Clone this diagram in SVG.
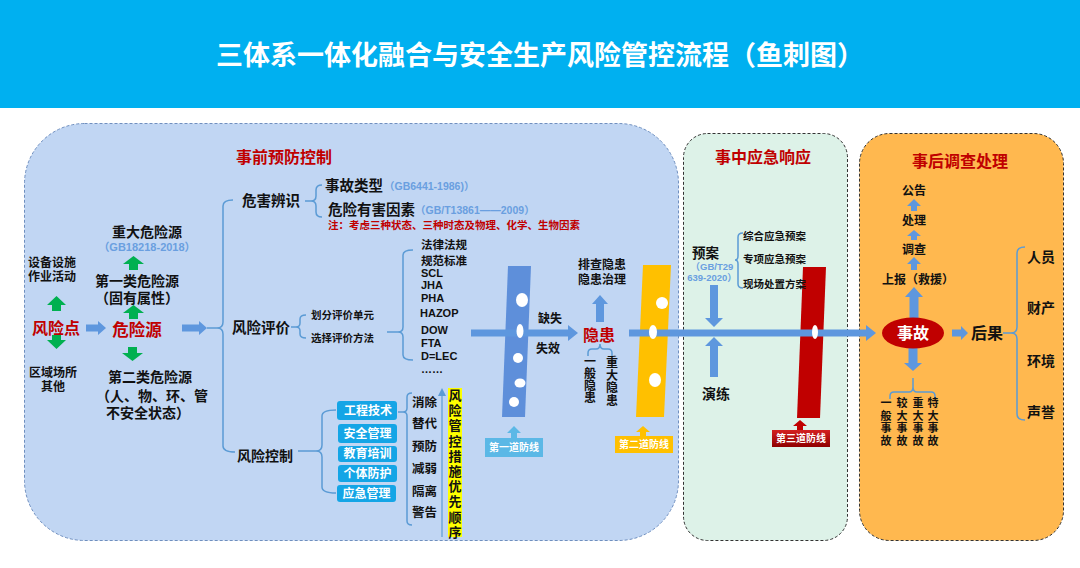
<svg xmlns="http://www.w3.org/2000/svg" width="1080" height="568" viewBox="0 0 1080 568">
<defs>
<style>
.t{font-family:"Liberation Sans","Noto Sans CJK SC",sans-serif;font-weight:bold;fill:#111;dominant-baseline:central}
.m{text-anchor:middle}
.red{fill:#C00000}
.blue{fill:#6A9FE0}
.wh{fill:#fff}
.br{fill:none;stroke:#5B9BD5;stroke-width:1.5}
.ba{fill:#5E97DE}
.ga{fill:#00B050}
.hole{fill:#fff}
.btn{fill:#14A5E6}
</style>
<marker id="thinhead" markerWidth="8" markerHeight="8" refX="4" refY="4" orient="auto" markerUnits="userSpaceOnUse">
<path d="M0,0 L8,4 L0,8 Z" fill="#5B9BD5"/>
</marker>
<linearGradient id="redlab" x1="0" y1="0" x2="0" y2="1">
<stop offset="0" stop-color="#D42020"/>
<stop offset="1" stop-color="#8E0000"/>
</linearGradient>
</defs>

<g id="header">
<rect x="0" y="0" width="1080" height="108" fill="#00B0F0"/>
<text class="t m wh" x="540" y="56" font-size="27">三体系一体化融合与安全生产风险管控流程（鱼刺图）</text>
</g>

<g id="panels">
<rect x="24.5" y="123.5" width="654" height="417" rx="60" fill="#C1D6F3" stroke="#6F8FBF" stroke-dasharray="3,2"/>
<rect x="683.5" y="133.5" width="164" height="407" rx="24" fill="#DDF2E8" stroke="#333" stroke-dasharray="3,2"/>
<rect x="859.5" y="133.5" width="204" height="407" rx="30" fill="#FFB84F" stroke="#333" stroke-dasharray="3,2"/>
</g>

<g id="defense-lines">
<polygon points="508,266 531,266 525,417 502,417" fill="#5E8FDA"/>
<polygon points="643,265 671,265 664,417 636,417" fill="#FFC000"/>
<polygon points="803,267 826,267 820,418 797,418" fill="#C00000"/>
</g>

<g id="connectors">
<!-- braces -->
<path class="br" d="M233,200 Q223,200 223,206 L223,322 Q223,328 217,328 L207,328 M217,328 Q223,328 223,334 L223,446 Q223,452 235,452"/>
<path class="br" d="M322,185 Q316,185 316,190 L316,196 Q316,201 311,201 L305,201 M311,201 Q316,201 316,206 L316,212 Q316,217 322,217"/>
<path class="br" d="M306,315 Q300,315 300,319 L300,323 Q300,327 296,327 L291,327 M296,327 Q300,327 300,331 L300,334 Q300,338 306,338"/>
<path class="br" d="M413,250 Q403,250 403,255 L403,327 Q403,332 398,332 L387,332 M398,332 Q403,332 403,337 L403,355 Q403,360 413,360"/>
<path class="br" d="M336,410 Q322,410 322,416 L322,445 Q322,451 316,451 L298,451 M316,451 Q322,451 322,457 L322,487 Q322,493 336,493"/>
<path class="br" d="M412,393 Q407,393 407,397 L407,408 Q407,412 403,412 L398,412 M403,412 Q407,412 407,416 L407,521 Q407,525 412,525"/>
<path class="br" d="M743,233 Q738,233 738,237 L738,256 Q738,260 735,260 M735,260 Q738,260 738,264 L738,284 Q738,288 743,288" stroke="#8DB7E6" stroke-width="1.2"/>
<path class="br" d="M1025,247 Q1017,247 1017,253 L1017,327 Q1017,333 1011,333 L1003,333 M1011,333 Q1017,333 1017,339 L1017,414 Q1017,420 1025,420"/>
<path class="br" d="M588,356 L588,353 Q588,349 592,349 L596,349 Q600,349 600,344 M600,344 Q600,349 604,349 L608,349 Q612,349 612,353 L612,356" stroke="#7FAFE3"/>
<path class="br" d="M890,399 L890,396 Q890,392 894,392 L909,392 Q913,392 913,387 L913,378 M913,387 Q913,392 917,392 L931,392 Q935,392 935,396 L935,399" stroke="#7FAFE3"/>
<!-- thin priority arrow -->
<line x1="442" y1="537" x2="442" y2="392" stroke="#5B9BD5" stroke-width="1.2" marker-end="url(#thinhead)"/>
<!-- main spine -->
<path class="ba" d="M471,329.5 L568,329.5 L568,325 L578,333 L568,341 L568,336.5 L471,336.5 Z"/>
<path class="ba" d="M629,329.5 L866,329.5 L866,325 L876,333 L866,341 L866,336.5 L629,336.5 Z"/>
<!-- left horizontal arrows -->
<path class="ba" d="M86,324.5 L98,324.5 L98,321 L106,328 L98,335 L98,331.5 L86,331.5 Z"/>
<path class="ba" d="M182,324.5 L199,324.5 L199,321 L207,328 L199,335 L199,331.5 L182,331.5 Z"/>
<path class="ba" d="M952,329.5 L961,329.5 L961,326 L968,333 L961,340 L961,336.5 L952,336.5 Z"/>
<!-- vertical blue arrows -->
<path class="ba" d="M596,322 L596,304 L592,304 L600,295 L608,304 L604,304 L604,322 Z"/>
<path class="ba" d="M710,285 L710,318 L705,318 L714,327 L723,318 L718,318 L718,285 Z"/>
<path class="ba" d="M710,377 L710,346 L705,346 L714,337 L723,346 L718,346 L718,377 Z"/>
<path class="ba" d="M909.5,318 L909.5,297 L905,297 L914,287 L923,297 L918.5,297 L918.5,318 Z"/>
<path class="ba" d="M908.5,348 L908.5,363 L904,363 L913,371 L922,363 L917.5,363 L917.5,348 Z"/>
<path class="ba" d="M911,270 L911,264 L907,264 L914,257 L921,264 L917,264 L917,270 Z"/>
<path class="ba" d="M911,240 L911,236 L907,236 L914,230 L921,236 L917,236 L917,240 Z"/>
<path class="ba" d="M911,211 L911,206 L907,206 L914,199 L921,206 L917,206 L917,211 Z"/>
<!-- green arrows -->
<path class="ga" d="M52,311 L52,305 L47,305 L56.5,296 L66,305 L61,305 L61,311 Z"/>
<path class="ga" d="M52,335 L52,340 L47,340 L56.5,349 L66,340 L61,340 L61,335 Z"/>
<path class="ga" d="M129,319 L129,313 L123,313 L133.5,305 L144,313 L138,313 L138,319 Z"/>
<path class="ga" d="M129,270 L129,264 L123,264 L133.5,256 L144,264 L138,264 L138,270 Z"/>
<path class="ga" d="M128,347 L128,353 L122,353 L132.5,361 L143,353 L137,353 L137,347 Z"/>
<!-- defense label arrows -->
<path d="M511,438 L511,433 L507,433 L514,426 L521,433 L517,433 L517,438 Z" fill="#5BB8E6"/>
<path d="M640,436 L640,432 L636,432 L643,426 L650,432 L646,432 L646,436 Z" fill="#FFC000"/>
<path d="M797,430 L797,426 L793,426 L800,420 L807,426 L803,426 L803,430 Z" fill="#C00000"/>
</g>

<g id="holes">
<ellipse class="hole" cx="522" cy="300" rx="6" ry="7"/>
<ellipse class="hole" cx="520" cy="331" rx="3.5" ry="7"/>
<ellipse class="hole" cx="518" cy="358" rx="5" ry="5"/>
<ellipse class="hole" cx="520" cy="383" rx="5.5" ry="4.5"/>
<ellipse class="hole" cx="514" cy="402" rx="5" ry="5"/>
<ellipse class="hole" cx="662" cy="303" rx="6" ry="6"/>
<ellipse class="hole" cx="653" cy="332" rx="4" ry="7"/>
<ellipse class="hole" cx="655" cy="380" rx="6" ry="7"/>
<ellipse class="hole" cx="815" cy="332" rx="3" ry="7"/>
</g>

<g id="defense-labels">
<rect x="485" y="438" width="58" height="19" fill="#5BB8E6"/>
<text class="t m wh" x="514" y="447.5" font-size="10">第一道防线</text>
<rect x="615" y="436" width="58" height="17" fill="#FFC000"/>
<text class="t m wh" x="644" y="444.5" font-size="10">第二道防线</text>
<rect x="772" y="430" width="58" height="17" fill="url(#redlab)"/>
<text class="t m wh" x="801" y="438.5" font-size="10">第三道防线</text>
</g>

<g id="node-risk-point">
<text class="t m" x="52" y="263" font-size="12">设备设施</text>
<text class="t m" x="52" y="277" font-size="12">作业活动</text>
<text class="t m red" x="56" y="328" font-size="16">风险点</text>
<text class="t m" x="53" y="373" font-size="12">区域场所</text>
<text class="t m" x="53" y="387" font-size="12">其他</text>
</g>

<g id="node-hazard-source">
<text class="t m" x="147" y="232" font-size="14">重大危险源</text>
<text class="t m blue" x="147" y="247" font-size="11">（GB18218-2018）</text>
<text class="t m" x="137" y="281" font-size="14">第一类危险源</text>
<text class="t m" x="137" y="298" font-size="14">（固有属性）</text>
<text class="t m red" x="137" y="330" font-size="16.5">危险源</text>
<text class="t m" x="150" y="377" font-size="14">第二类危险源</text>
<text class="t m" x="152" y="396" font-size="14">（人、物、环、管</text>
<text class="t m" x="148" y="413" font-size="14">不安全状态）</text>
</g>

<g id="node-pre-title">
<text class="t red" x="236" y="157" font-size="16">事前预防控制</text>
</g>

<g id="node-identify">
<text class="t" x="242" y="201" font-size="14.5">危害辨识</text>
<text class="t" x="325" y="186" font-size="14.5">事故类型</text>
<text class="t blue" x="384" y="186" font-size="10.5">（GB6441-1986)）</text>
<text class="t" x="328" y="210" font-size="14.5">危险有害因素</text>
<text class="t blue" x="415" y="210" font-size="10.5">（GB/T13861——2009）</text>
<text class="t red" x="328" y="225" font-size="10.5">注：考虑三种状态、三种时态及物理、化学、生物因素</text>
</g>

<g id="node-assess">
<text class="t" x="232" y="328" font-size="14.5">风险评价</text>
<text class="t" x="311" y="315" font-size="10.5">划分评价单元</text>
<text class="t" x="311" y="338" font-size="10.5">选择评价方法</text>
<text class="t" x="421" y="245" font-size="11.5">法律法规</text>
<text class="t" x="421" y="261" font-size="11.5">规范标准</text>
<text class="t" x="421" y="273" font-size="11">SCL</text>
<text class="t" x="421" y="285" font-size="11">JHA</text>
<text class="t" x="421" y="298" font-size="11">PHA</text>
<text class="t" x="420" y="313" font-size="11">HAZOP</text>
<text class="t" x="421" y="330" font-size="11">DOW</text>
<text class="t" x="421" y="343" font-size="11">FTA</text>
<text class="t" x="421" y="356" font-size="11">D=LEC</text>
<text class="t" x="421" y="369" font-size="11">……</text>
</g>

<g id="node-control">
<text class="t" x="237" y="456" font-size="14">风险控制</text>
<rect class="btn" x="337" y="401" width="60" height="19" rx="3"/>
<text class="t m wh" x="368" y="410.5" font-size="12">工程技术</text>
<rect class="btn" x="338" y="424" width="59" height="19" rx="3"/>
<text class="t m wh" x="367.5" y="433.5" font-size="12">安全管理</text>
<rect class="btn" x="338" y="446" width="59" height="16" rx="3"/>
<text class="t m wh" x="367.5" y="454" font-size="12">教育培训</text>
<rect class="btn" x="338" y="465" width="59" height="17" rx="3"/>
<text class="t m wh" x="367.5" y="473.5" font-size="12">个体防护</text>
<rect class="btn" x="337" y="485" width="59" height="17" rx="3"/>
<text class="t m wh" x="366.5" y="493.5" font-size="12">应急管理</text>
<text class="t" x="412" y="403" font-size="12.5">消除</text>
<text class="t" x="412" y="424" font-size="12.5">替代</text>
<text class="t" x="412" y="447" font-size="12.5">预防</text>
<text class="t" x="412" y="469" font-size="12.5">减弱</text>
<text class="t" x="412" y="492" font-size="12.5">隔离</text>
<text class="t" x="412" y="513" font-size="12.5">警告</text>
<rect x="448" y="388" width="14" height="149" fill="#FFFF00"/>
<text class="t m" font-size="13"><tspan x="455" y="395">风</tspan><tspan x="455" y="410.2">险</tspan><tspan x="455" y="425.4">管</tspan><tspan x="455" y="440.6">控</tspan><tspan x="455" y="455.8">措</tspan><tspan x="455" y="471">施</tspan><tspan x="455" y="486.2">优</tspan><tspan x="455" y="501.4">先</tspan><tspan x="455" y="516.6">顺</tspan><tspan x="455" y="531.8">序</tspan></text>
</g>

<g id="node-hidden-danger">
<text class="t" x="538" y="319" font-size="12">缺失</text>
<text class="t" x="536" y="349" font-size="12">失效</text>
<text class="t m red" x="599" y="335" font-size="16">隐患</text>
<text class="t m" x="602" y="265" font-size="12">排查隐患</text>
<text class="t m" x="602" y="280" font-size="12">隐患治理</text>
<text class="t m" font-size="12"><tspan x="590" y="362">一</tspan><tspan x="590" y="374">般</tspan><tspan x="590" y="386">隐</tspan><tspan x="590" y="398">患</tspan></text>
<text class="t m" font-size="12"><tspan x="612" y="363">重</tspan><tspan x="612" y="375.5">大</tspan><tspan x="612" y="388">隐</tspan><tspan x="612" y="400.5">患</tspan></text>
</g>

<g id="node-emergency">
<text class="t m red" x="763" y="157" font-size="16">事中应急响应</text>
<text class="t m" x="705.5" y="253" font-size="13.5">预案</text>
<text class="t m blue" x="712" y="266" font-size="9.5">（GB/T29</text>
<text class="t m blue" x="712" y="277" font-size="9.5">639-2020）</text>
<text class="t" x="743" y="236" font-size="10.5">综合应急预案</text>
<text class="t" x="743" y="259" font-size="10.5">专项应急预案</text>
<text class="t" x="743" y="284" font-size="10.5">现场处置方案</text>
<text class="t m" x="716" y="394" font-size="14">演练</text>
</g>

<g id="node-post">
<text class="t m red" x="960" y="161" font-size="16">事后调查处理</text>
<text class="t m" x="914" y="191" font-size="12">公告</text>
<text class="t m" x="914" y="221" font-size="12">处理</text>
<text class="t m" x="914" y="250" font-size="12">调查</text>
<text class="t m" x="918" y="280" font-size="12">上报（救援）</text>
<ellipse cx="913" cy="333" rx="31" ry="15.5" fill="#C00000"/>
<text class="t m wh" x="913" y="333" font-size="16">事故</text>
<text class="t m" x="987" y="333" font-size="16">后果</text>
<text class="t m" x="1041" y="257" font-size="14">人员</text>
<text class="t m" x="1041" y="308" font-size="14">财产</text>
<text class="t m" x="1041" y="361" font-size="14">环境</text>
<text class="t m" x="1041" y="412" font-size="14">声誉</text>
<text class="t m" font-size="11"><tspan x="886" y="403">一</tspan><tspan x="886" y="415.5">般</tspan><tspan x="886" y="428">事</tspan><tspan x="886" y="440.5">故</tspan></text>
<text class="t m" font-size="11"><tspan x="902" y="403">较</tspan><tspan x="902" y="415.5">大</tspan><tspan x="902" y="428">事</tspan><tspan x="902" y="440.5">故</tspan></text>
<text class="t m" font-size="11"><tspan x="918" y="403">重</tspan><tspan x="918" y="415.5">大</tspan><tspan x="918" y="428">事</tspan><tspan x="918" y="440.5">故</tspan></text>
<text class="t m" font-size="11"><tspan x="933" y="403">特</tspan><tspan x="933" y="415.5">大</tspan><tspan x="933" y="428">事</tspan><tspan x="933" y="440.5">故</tspan></text>
</g>
</svg>
